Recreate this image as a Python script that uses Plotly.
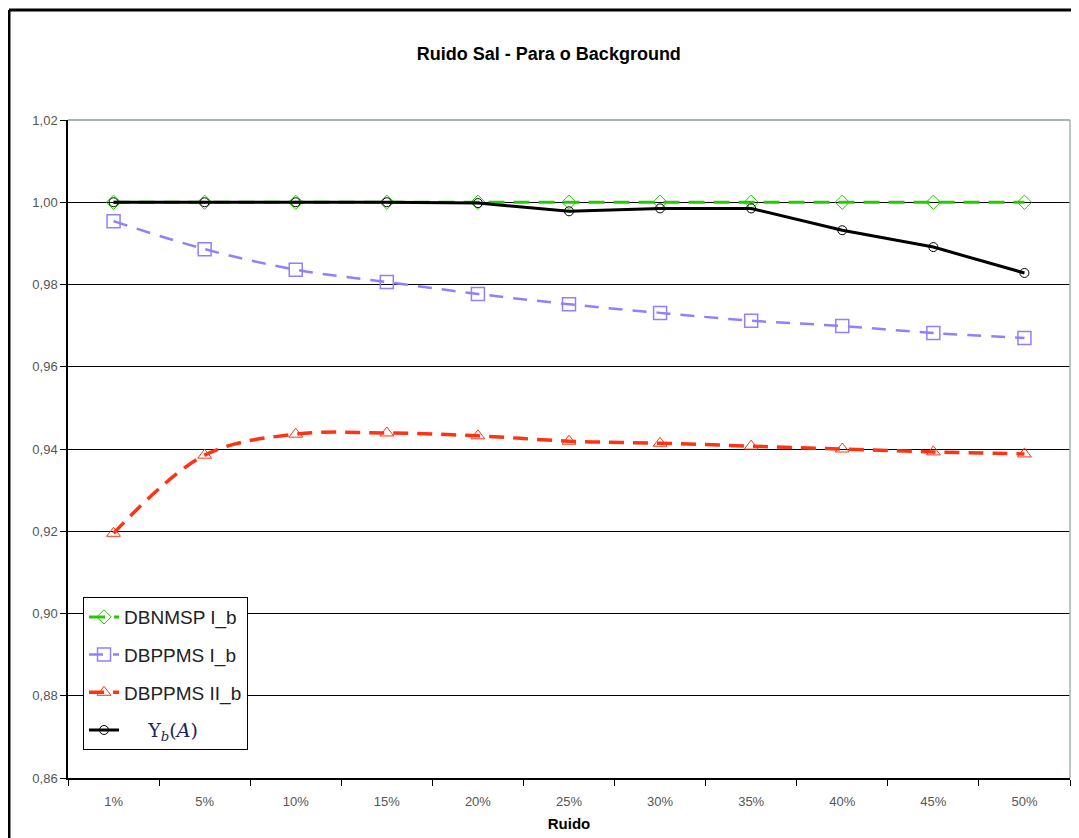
import plotly.graph_objects as go

categories = ["1%", "5%", "10%", "15%", "20%", "25%", "30%", "35%", "40%", "45%", "50%"]
dbnmsp_i = [1.0000, 1.0000, 1.0000, 1.0000, 1.0000, 1.0000, 1.0000, 1.0000, 1.0000, 1.0000, 1.0000]
dbppms_i = [0.9954, 0.9886, 0.9836, 0.9806, 0.9777, 0.9752, 0.9731, 0.9712, 0.9699, 0.9682, 0.9670]
dbppms_ii = [0.9195, 0.9385, 0.9436, 0.9439, 0.9432, 0.9419, 0.9414, 0.9407, 0.9400, 0.9393, 0.9388]
upsilon = [1.0000, 1.0000, 1.0000, 1.0000, 0.9998, 0.9978, 0.9985, 0.9985, 0.9932, 0.9891, 0.9828]
y_ticks = [0.86, 0.88, 0.90, 0.92, 0.94, 0.96, 0.98, 1.00, 1.02]

FONT = "Liberation Sans, Arial, sans-serif"

fig = go.Figure()
fig.add_trace(go.Scatter(
    x=categories, y=dbnmsp_i, name="DBNMSP I_b", mode="lines+markers",
    line=dict(color="#22cc00", width=3, dash="16px,9px"),
    marker=dict(symbol="diamond-open", size=11, color="#22cc00", line=dict(width=1)),
    legendgroup="a"))
fig.add_trace(go.Scatter(
    x=categories, y=dbppms_i, name="DBPPMS I_b", mode="lines+markers",
    line=dict(color="#8f80ff", width=2.5, dash="14px,10px", shape="spline"),
    marker=dict(symbol="square-open", size=13, color="#8f80ff", line=dict(width=1.5)),
    legendgroup="b"))
fig.add_trace(go.Scatter(
    x=categories, y=dbppms_ii, name="DBPPMS II_b", mode="lines+markers",
    line=dict(color="#ff3311", width=3.5, dash="15px,9px", shape="spline"),
    marker=dict(symbol="triangle-up-open", size=12, color="#ff3311", line=dict(width=1)),
    legendgroup="c"))
fig.add_trace(go.Scatter(
    x=categories, y=upsilon,
    name="<span style='font-family:DejaVu Serif, serif; color:#222266'>&nbsp;&nbsp;&nbsp;&nbsp;Υ<sub><i>b</i></sub>(<i>A</i>)</span>",
    mode="lines+markers",
    line=dict(color="black", width=3),
    marker=dict(symbol="circle-open", size=9, color="black", line=dict(width=1)),
    legendgroup="d"))

fig.update_layout(
    width=1071, height=830,
    margin=dict(l=60, r=9, t=112, b=60),
    paper_bgcolor="white", plot_bgcolor="white",
    separators=",.",
    showlegend=True,
    title=dict(text="<b>Ruido Sal - Para o Background</b>", x=0.505, xanchor="center",
               y=0.9446, yanchor="middle",
               font=dict(family=FONT, size=18, color="black")),
    legend=dict(x=0.015, y=0.275, xanchor="left", yanchor="top",
                bordercolor="black", borderwidth=1, bgcolor="white",
                font=dict(family=FONT, size=19, color="#222222"),
                tracegroupgap=10, traceorder="grouped", itemwidth=30),
    xaxis=dict(
        type="category", categoryorder="array", categoryarray=categories,
        showgrid=False, showline=True, linecolor="black", linewidth=1.5,
        mirror=False, ticks="outside", tickson="boundaries", ticklen=6,
        tickcolor="black", ticklabelstandoff=11, automargin=False,
        tickfont=dict(family=FONT, size=13, color="#555555"),
        title=dict(text="<b>Ruido</b>", font=dict(family=FONT, size=15, color="black"), standoff=10),
        range=[-0.5, 10.5]),
    yaxis=dict(
        range=[0.86, 1.02], tickvals=y_ticks, tickformat=".2f",
        showgrid=True, gridcolor="black", gridwidth=1, automargin=False,
        showline=True, linecolor="black", linewidth=1.5,
        ticks="outside", ticklen=6, tickcolor="black",
        tickfont=dict(family=FONT, size=13, color="#555555"),
        zeroline=False),
    shapes=[
        dict(type="line", xref="paper", yref="paper", x0=0, x1=1, y0=1, y1=1,
             line=dict(color="#a8b4b4", width=2)),
        dict(type="line", xref="paper", yref="paper", x0=1, x1=1, y0=0, y1=1,
             line=dict(color="#a8b4b4", width=1.5)),
        dict(type="line", xref="paper", yref="paper", x0=-0.0589, x1=1.02, y0=1.167, y1=1.167,
             line=dict(color="black", width=3)),
        dict(type="line", xref="paper", yref="paper", x0=-0.0589, x1=-0.0589, y0=1.167, y1=-0.12,
             line=dict(color="black", width=3)),
    ],
)

fig.write_html("out.html")
